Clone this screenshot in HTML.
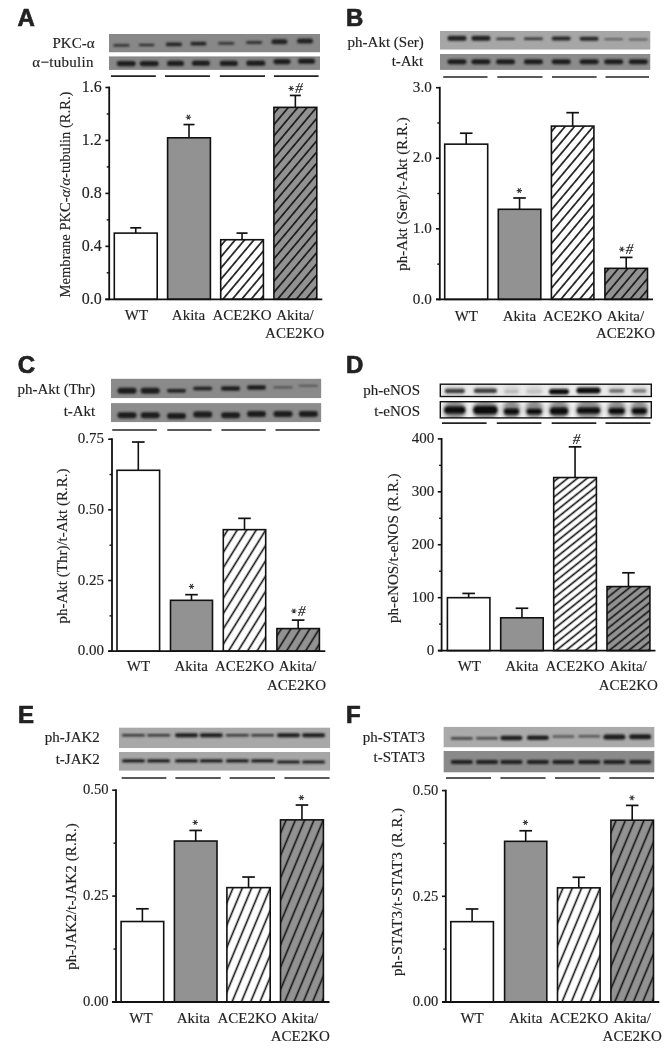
<!DOCTYPE html><html><head><meta charset="utf-8"><style>html,body{margin:0;padding:0;background:#fff;width:671px;height:1048px;overflow:hidden}svg{display:block;filter:blur(0.3px)}text{fill:#222;stroke:#222;stroke-width:0.15px}</style></head><body><svg width="671" height="1048" viewBox="0 0 671 1048"><defs><filter id="blur1" x="-20%" y="-50%" width="140%" height="200%"><feGaussianBlur stdDeviation="0.85"/></filter><filter id="blur2" x="-20%" y="-50%" width="140%" height="200%"><feGaussianBlur stdDeviation="1.1"/></filter><filter id="blur3" x="-30%" y="-80%" width="160%" height="260%"><feGaussianBlur stdDeviation="2"/></filter><clipPath id="cA0"><rect x="109" y="34" width="211" height="18.5"/></clipPath><clipPath id="cA1"><rect x="109" y="56.2" width="211" height="13.700000000000003"/></clipPath><pattern id="h1" patternUnits="userSpaceOnUse" width="7.196" height="10" patternTransform="translate(244.40,240.10) rotate(40.042) translate(-3.598,0)"><rect width="7.196" height="10" fill="#fff"/><line x1="3.598" y1="-1" x2="3.598" y2="11" stroke="#111" stroke-width="1.6"/></pattern><pattern id="h2" patternUnits="userSpaceOnUse" width="7.196" height="10" patternTransform="translate(288.30,107.50) rotate(40.042) translate(-3.598,0)"><rect width="7.196" height="10" fill="#929292"/><line x1="3.598" y1="-1" x2="3.598" y2="11" stroke="#111" stroke-width="1.6"/></pattern><clipPath id="cB0"><rect x="440" y="31" width="210.5" height="18.700000000000003"/></clipPath><clipPath id="cB1"><rect x="440" y="53.9" width="210.5" height="16.000000000000007"/></clipPath><pattern id="h3" patternUnits="userSpaceOnUse" width="7.196" height="10" patternTransform="translate(574.80,126.10) rotate(40.042) translate(-3.598,0)"><rect width="7.196" height="10" fill="#fff"/><line x1="3.598" y1="-1" x2="3.598" y2="11" stroke="#111" stroke-width="1.6"/></pattern><pattern id="h4" patternUnits="userSpaceOnUse" width="7.196" height="10" patternTransform="translate(618.60,268.20) rotate(40.042) translate(-3.598,0)"><rect width="7.196" height="10" fill="#929292"/><line x1="3.598" y1="-1" x2="3.598" y2="11" stroke="#111" stroke-width="1.6"/></pattern><clipPath id="cC0"><rect x="110.9" y="378.6" width="210.49999999999997" height="19.599999999999966"/></clipPath><clipPath id="cC1"><rect x="110.9" y="403.1" width="210.49999999999997" height="19.099999999999966"/></clipPath><pattern id="h5" patternUnits="userSpaceOnUse" width="8.070" height="10" patternTransform="translate(237.50,529.50) rotate(31.845) translate(-4.035,0)"><rect width="8.070" height="10" fill="#fff"/><line x1="4.035" y1="-1" x2="4.035" y2="11" stroke="#111" stroke-width="1.6"/></pattern><pattern id="h6" patternUnits="userSpaceOnUse" width="8.070" height="10" patternTransform="translate(291.00,628.60) rotate(31.845) translate(-4.035,0)"><rect width="8.070" height="10" fill="#929292"/><line x1="4.035" y1="-1" x2="4.035" y2="11" stroke="#111" stroke-width="1.6"/></pattern><clipPath id="cD0"><rect x="440.3" y="384.2" width="210.99999999999994" height="12.300000000000011"/></clipPath><clipPath id="cD1"><rect x="440.3" y="401.7" width="210.99999999999994" height="16.19999999999999"/></clipPath><pattern id="h7" patternUnits="userSpaceOnUse" width="6.060" height="10" patternTransform="translate(568.30,477.80) rotate(51.340) translate(-3.030,0)"><rect width="6.060" height="10" fill="#fff"/><line x1="3.030" y1="-1" x2="3.030" y2="11" stroke="#111" stroke-width="1.6"/></pattern><pattern id="h8" patternUnits="userSpaceOnUse" width="6.060" height="10" patternTransform="translate(621.20,586.60) rotate(51.340) translate(-3.030,0)"><rect width="6.060" height="10" fill="#929292"/><line x1="3.030" y1="-1" x2="3.030" y2="11" stroke="#111" stroke-width="1.6"/></pattern><clipPath id="cE0"><rect x="119" y="727.4" width="211.3" height="20.800000000000068"/></clipPath><clipPath id="cE1"><rect x="119" y="751.9" width="211.3" height="18.899999999999977"/></clipPath><pattern id="h9" patternUnits="userSpaceOnUse" width="8.585" height="10" patternTransform="translate(242.50,887.50) rotate(22.620) translate(-4.292,0)"><rect width="8.585" height="10" fill="#fff"/><line x1="4.292" y1="-1" x2="4.292" y2="11" stroke="#111" stroke-width="1.6"/></pattern><pattern id="h10" patternUnits="userSpaceOnUse" width="8.585" height="10" patternTransform="translate(295.30,820.20) rotate(22.620) translate(-4.292,0)"><rect width="8.585" height="10" fill="#929292"/><line x1="4.292" y1="-1" x2="4.292" y2="11" stroke="#111" stroke-width="1.6"/></pattern><clipPath id="cF0"><rect x="443.4" y="726.7" width="211.20000000000005" height="20.799999999999955"/></clipPath><clipPath id="cF1"><rect x="443.4" y="750.9" width="211.20000000000005" height="21.700000000000045"/></clipPath><pattern id="h11" patternUnits="userSpaceOnUse" width="8.585" height="10" patternTransform="translate(572.50,887.50) rotate(22.620) translate(-4.292,0)"><rect width="8.585" height="10" fill="#fff"/><line x1="4.292" y1="-1" x2="4.292" y2="11" stroke="#111" stroke-width="1.6"/></pattern><pattern id="h12" patternUnits="userSpaceOnUse" width="8.585" height="10" patternTransform="translate(625.60,819.80) rotate(22.620) translate(-4.292,0)"><rect width="8.585" height="10" fill="#929292"/><line x1="4.292" y1="-1" x2="4.292" y2="11" stroke="#111" stroke-width="1.6"/></pattern></defs><rect width="671" height="1048" fill="#fff"/><text x="17.50" y="25.90" font-size="24" text-anchor="start" font-family='"Liberation Sans", sans-serif' font-weight="bold" style="stroke-width:0.7px">A</text><g clip-path="url(#cA0)"><rect x="109" y="34" width="211" height="18.5" fill="#888888"/><g filter="url(#blur1)"><rect x="113.40" y="44.30" width="16.00" height="2.20" rx="1.10" fill="#222"/><rect x="138.60" y="43.90" width="16.00" height="2.20" rx="1.10" fill="#222"/><rect x="165.90" y="42.50" width="16.00" height="3.80" rx="1.90" fill="#222"/><rect x="190.40" y="41.80" width="16.00" height="3.80" rx="1.90" fill="#222"/><rect x="218.30" y="42.30" width="16.00" height="2.20" rx="1.10" fill="#222"/><rect x="246.20" y="41.20" width="16.00" height="2.60" rx="1.30" fill="#222"/><rect x="271.40" y="39.30" width="16.00" height="5.00" rx="2.50" fill="#222"/><rect x="297.00" y="38.60" width="16.00" height="5.00" rx="2.50" fill="#222"/></g></g><text x="94.50" y="47.70" font-size="15" text-anchor="end" font-family='"Liberation Serif", serif' font-weight="normal" >PKC-α</text><g clip-path="url(#cA1)"><rect x="109" y="56.2" width="211" height="13.700000000000003" fill="#888888"/><g filter="url(#blur1)"><rect x="116.80" y="61.00" width="19.00" height="5.20" rx="2.60" fill="#1e1e1e"/><rect x="139.70" y="61.00" width="19.00" height="5.20" rx="2.60" fill="#1e1e1e"/><rect x="167.00" y="60.80" width="17.00" height="5.20" rx="2.60" fill="#1e1e1e"/><rect x="191.90" y="60.60" width="18.00" height="5.20" rx="2.60" fill="#1e1e1e"/><rect x="219.80" y="60.80" width="18.00" height="5.20" rx="2.60" fill="#1e1e1e"/><rect x="246.30" y="60.60" width="19.00" height="5.20" rx="2.60" fill="#1e1e1e"/><rect x="273.50" y="59.00" width="17.00" height="5.20" rx="2.60" fill="#1e1e1e"/><rect x="298.10" y="58.60" width="17.00" height="5.20" rx="2.60" fill="#1e1e1e"/></g></g><text x="93.80" y="67.30" font-size="15" text-anchor="end" font-family='"Liberation Serif", serif' font-weight="normal" ><tspan letter-spacing="0.3">α−tubulin</tspan></text><line x1="110.9" y1="76.2" x2="155.8" y2="76.2" stroke="#222" stroke-width="1.7"/><line x1="165" y1="76.2" x2="209.9" y2="76.2" stroke="#222" stroke-width="1.7"/><line x1="219.8" y1="76.2" x2="265" y2="76.2" stroke="#222" stroke-width="1.7"/><line x1="273.9" y1="76.2" x2="318.6" y2="76.2" stroke="#222" stroke-width="1.7"/><line x1="109.2" y1="86.6" x2="109.2" y2="300.2" stroke="#111" stroke-width="1.8"/><line x1="135.75" y1="227.8175" x2="135.75" y2="233.1125" stroke="#111" stroke-width="1.6"/><line x1="130.25" y1="227.8175" x2="141.25" y2="227.8175" stroke="#111" stroke-width="1.7"/><rect x="114.3" y="233.1125" width="42.89999999999999" height="66.1875" fill="#fff" stroke="#111" stroke-width="1.6"/><line x1="189.0" y1="124.565" x2="189.0" y2="137.8025" stroke="#111" stroke-width="1.6"/><line x1="183.5" y1="124.565" x2="194.5" y2="124.565" stroke="#111" stroke-width="1.7"/><rect x="167.6" y="137.8025" width="42.80000000000001" height="161.4975" fill="#929292" stroke="#111" stroke-width="1.6"/><line x1="242.04999999999998" y1="233.1125" x2="242.04999999999998" y2="239.73125000000002" stroke="#111" stroke-width="1.6"/><line x1="236.54999999999998" y1="233.1125" x2="247.54999999999998" y2="233.1125" stroke="#111" stroke-width="1.7"/><rect x="220.7" y="239.73125000000002" width="42.69999999999999" height="59.568749999999994" fill="url(#h1)" stroke="#111" stroke-width="1.6"/><line x1="295.35" y1="95.4425" x2="295.35" y2="107.35625000000002" stroke="#111" stroke-width="1.6"/><line x1="289.85" y1="95.4425" x2="300.85" y2="95.4425" stroke="#111" stroke-width="1.7"/><rect x="273.9" y="107.35625000000002" width="42.900000000000034" height="191.94375" fill="url(#h2)" stroke="#111" stroke-width="1.6"/><line x1="105.2" y1="299.3" x2="322.3" y2="299.3" stroke="#111" stroke-width="1.8"/><line x1="105.4" y1="299.3" x2="109.2" y2="299.3" stroke="#111" stroke-width="1.6"/><text x="101.80" y="303.50" font-size="16" text-anchor="end" font-family='"Liberation Serif", serif' font-weight="normal" >0.0</text><line x1="105.4" y1="246.35000000000002" x2="109.2" y2="246.35000000000002" stroke="#111" stroke-width="1.6"/><text x="101.80" y="250.55" font-size="16" text-anchor="end" font-family='"Liberation Serif", serif' font-weight="normal" >0.4</text><line x1="105.4" y1="193.4" x2="109.2" y2="193.4" stroke="#111" stroke-width="1.6"/><text x="101.80" y="197.60" font-size="16" text-anchor="end" font-family='"Liberation Serif", serif' font-weight="normal" >0.8</text><line x1="105.4" y1="140.45000000000002" x2="109.2" y2="140.45000000000002" stroke="#111" stroke-width="1.6"/><text x="101.80" y="144.65" font-size="16" text-anchor="end" font-family='"Liberation Serif", serif' font-weight="normal" >1.2</text><line x1="105.4" y1="87.5" x2="109.2" y2="87.5" stroke="#111" stroke-width="1.6"/><text x="101.80" y="91.70" font-size="16" text-anchor="end" font-family='"Liberation Serif", serif' font-weight="normal" >1.6</text><line x1="106.7" y1="272.825" x2="109.2" y2="272.825" stroke="#111" stroke-width="1.4"/><line x1="106.7" y1="219.875" x2="109.2" y2="219.875" stroke="#111" stroke-width="1.4"/><line x1="106.7" y1="166.925" x2="109.2" y2="166.925" stroke="#111" stroke-width="1.4"/><line x1="106.7" y1="113.97500000000002" x2="109.2" y2="113.97500000000002" stroke="#111" stroke-width="1.4"/><path d="M185.70,117.20L191.10,117.20M187.05,114.86L189.75,119.54M189.75,114.86L187.05,119.54" stroke="#3a3a3a" stroke-width="1.05" fill="none"/><path d="M288.50,88.40L293.90,88.40M289.85,86.06L292.55,90.74M292.55,86.06L289.85,90.74" stroke="#3a3a3a" stroke-width="1.05" fill="none"/><text x="299.10" y="93.00" font-size="15" text-anchor="middle" font-family='"Liberation Serif", serif' font-weight="normal" font-style="italic">#</text><text transform="translate(70.4,194.5) rotate(-90)" font-size="14.6" letter-spacing="0" text-anchor="middle" font-family='"Liberation Serif", serif'>Membrane PKC-<tspan font-style="italic">α</tspan>/<tspan font-style="italic">α</tspan>-tubulin (R.R.)</text><text x="136.50" y="320.00" font-size="15" text-anchor="middle" font-family='"Liberation Serif", serif' font-weight="normal" >WT</text><text x="188.50" y="320.00" font-size="15" text-anchor="middle" font-family='"Liberation Serif", serif' font-weight="normal" >Akita</text><text x="242.00" y="320.00" font-size="15" text-anchor="middle" font-family='"Liberation Serif", serif' font-weight="normal" >ACE2KO</text><text x="295.00" y="320.00" font-size="15" text-anchor="middle" font-family='"Liberation Serif", serif' font-weight="normal" >Akita/</text><text x="294.70" y="338.20" font-size="15" text-anchor="middle" font-family='"Liberation Serif", serif' font-weight="normal" >ACE2KO</text><text x="346.00" y="25.90" font-size="24" text-anchor="start" font-family='"Liberation Sans", sans-serif' font-weight="bold" style="stroke-width:0.7px">B</text><g clip-path="url(#cB0)"><rect x="440" y="31" width="210.5" height="18.700000000000003" fill="#a6a6a6"/><g filter="url(#blur1)"><rect x="447.50" y="35.80" width="19.00" height="5.00" rx="2.50" fill="#222"/><rect x="471.40" y="35.80" width="19.00" height="5.00" rx="2.50" fill="#222"/><rect x="496.00" y="37.70" width="19.00" height="2.20" rx="1.10" fill="#333"/><rect x="523.90" y="37.60" width="19.00" height="2.40" rx="1.20" fill="#333"/><rect x="551.70" y="36.60" width="19.00" height="4.00" rx="2.00" fill="#262626"/><rect x="579.60" y="36.80" width="19.00" height="4.00" rx="2.00" fill="#262626"/><rect x="604.20" y="38.40" width="19.00" height="1.60" rx="0.80" fill="#444"/><rect x="628.80" y="38.70" width="19.00" height="1.60" rx="0.80" fill="#444"/></g></g><text x="423.80" y="46.70" font-size="15" text-anchor="end" font-family='"Liberation Serif", serif' font-weight="normal" >ph-Akt (Ser)</text><g clip-path="url(#cB1)"><rect x="440" y="53.9" width="210.5" height="16.000000000000007" fill="#8c8c8c"/><g filter="url(#blur1)"><rect x="447.50" y="59.20" width="19.00" height="5.00" rx="2.50" fill="#1c1c1c"/><rect x="471.40" y="59.20" width="19.00" height="5.00" rx="2.50" fill="#1c1c1c"/><rect x="496.00" y="59.20" width="19.00" height="5.00" rx="2.50" fill="#1c1c1c"/><rect x="523.90" y="59.20" width="19.00" height="5.00" rx="2.50" fill="#1c1c1c"/><rect x="551.70" y="59.20" width="19.00" height="5.00" rx="2.50" fill="#1c1c1c"/><rect x="579.60" y="59.20" width="19.00" height="5.00" rx="2.50" fill="#1c1c1c"/><rect x="604.20" y="59.20" width="19.00" height="5.00" rx="2.50" fill="#1c1c1c"/><rect x="628.80" y="59.20" width="19.00" height="5.00" rx="2.50" fill="#1c1c1c"/></g></g><text x="423.30" y="66.40" font-size="15" text-anchor="end" font-family='"Liberation Serif", serif' font-weight="normal" >t-Akt</text><line x1="443.2" y1="77" x2="487.5" y2="77" stroke="#222" stroke-width="1.7"/><line x1="497.3" y1="77" x2="542.5" y2="77" stroke="#222" stroke-width="1.7"/><line x1="552" y1="77" x2="596.6" y2="77" stroke="#222" stroke-width="1.7"/><line x1="605.5" y1="77" x2="649" y2="77" stroke="#222" stroke-width="1.7"/><line x1="439.8" y1="86.8" x2="439.8" y2="300.29999999999995" stroke="#111" stroke-width="1.8"/><line x1="466.2" y1="133.2155" x2="466.2" y2="144.1533333333333" stroke="#111" stroke-width="1.6"/><line x1="459.9" y1="133.2155" x2="472.5" y2="133.2155" stroke="#111" stroke-width="1.7"/><rect x="444.7" y="144.1533333333333" width="43.0" height="155.24666666666667" fill="#fff" stroke="#111" stroke-width="1.6"/><line x1="519.55" y1="197.9957" x2="519.55" y2="209.28636666666665" stroke="#111" stroke-width="1.6"/><line x1="513.25" y1="197.9957" x2="525.8499999999999" y2="197.9957" stroke="#111" stroke-width="1.7"/><rect x="498.3" y="209.28636666666665" width="42.49999999999994" height="90.11363333333333" fill="#929292" stroke="#111" stroke-width="1.6"/><line x1="572.65" y1="112.6806" x2="572.65" y2="126.08826666666664" stroke="#111" stroke-width="1.6"/><line x1="566.35" y1="112.6806" x2="578.9499999999999" y2="112.6806" stroke="#111" stroke-width="1.7"/><rect x="551.4" y="126.08826666666664" width="42.5" height="173.31173333333334" fill="url(#h3)" stroke="#111" stroke-width="1.6"/><line x1="626.2" y1="257.4128333333333" x2="626.2" y2="268.35066666666665" stroke="#111" stroke-width="1.6"/><line x1="619.9000000000001" y1="257.4128333333333" x2="632.5" y2="257.4128333333333" stroke="#111" stroke-width="1.7"/><rect x="604.9" y="268.35066666666665" width="42.60000000000002" height="31.049333333333323" fill="url(#h4)" stroke="#111" stroke-width="1.6"/><line x1="436" y1="299.4" x2="653" y2="299.4" stroke="#111" stroke-width="1.8"/><line x1="436.0" y1="299.4" x2="439.8" y2="299.4" stroke="#111" stroke-width="1.6"/><text x="431.80" y="303.60" font-size="15.2" text-anchor="end" font-family='"Liberation Serif", serif' font-weight="normal" >0.0</text><line x1="436.0" y1="228.83333333333331" x2="439.8" y2="228.83333333333331" stroke="#111" stroke-width="1.6"/><text x="431.80" y="233.03" font-size="15.2" text-anchor="end" font-family='"Liberation Serif", serif' font-weight="normal" >1.0</text><line x1="436.0" y1="158.26666666666665" x2="439.8" y2="158.26666666666665" stroke="#111" stroke-width="1.6"/><text x="431.80" y="162.47" font-size="15.2" text-anchor="end" font-family='"Liberation Serif", serif' font-weight="normal" >2.0</text><line x1="436.0" y1="87.70000000000002" x2="439.8" y2="87.70000000000002" stroke="#111" stroke-width="1.6"/><text x="431.80" y="91.90" font-size="15.2" text-anchor="end" font-family='"Liberation Serif", serif' font-weight="normal" >3.0</text><line x1="437.3" y1="264.1166666666667" x2="439.8" y2="264.1166666666667" stroke="#111" stroke-width="1.4"/><line x1="437.3" y1="193.55" x2="439.8" y2="193.55" stroke="#111" stroke-width="1.4"/><line x1="437.3" y1="122.98333333333332" x2="439.8" y2="122.98333333333332" stroke="#111" stroke-width="1.4"/><path d="M516.60,190.60L522.00,190.60M517.95,188.26L520.65,192.94M520.65,188.26L517.95,192.94" stroke="#3a3a3a" stroke-width="1.05" fill="none"/><path d="M619.10,249.20L624.50,249.20M620.45,246.86L623.15,251.54M623.15,246.86L620.45,251.54" stroke="#3a3a3a" stroke-width="1.05" fill="none"/><text x="629.50" y="253.60" font-size="15" text-anchor="middle" font-family='"Liberation Serif", serif' font-weight="normal" font-style="italic">#</text><text transform="translate(407.3,194) rotate(-90)" font-size="15" letter-spacing="0" text-anchor="middle" font-family='"Liberation Serif", serif'>ph-Akt (Ser)/t-Akt (R.R.)</text><text x="466.30" y="320.50" font-size="15" text-anchor="middle" font-family='"Liberation Serif", serif' font-weight="normal" >WT</text><text x="519.40" y="320.50" font-size="15" text-anchor="middle" font-family='"Liberation Serif", serif' font-weight="normal" >Akita</text><text x="572.60" y="320.50" font-size="15" text-anchor="middle" font-family='"Liberation Serif", serif' font-weight="normal" >ACE2KO</text><text x="625.40" y="320.50" font-size="15" text-anchor="middle" font-family='"Liberation Serif", serif' font-weight="normal" >Akita/</text><text x="625.60" y="337.50" font-size="15" text-anchor="middle" font-family='"Liberation Serif", serif' font-weight="normal" >ACE2KO</text><text x="17.80" y="372.80" font-size="24" text-anchor="start" font-family='"Liberation Sans", sans-serif' font-weight="bold" style="stroke-width:0.7px">C</text><g clip-path="url(#cC0)"><rect x="110.9" y="378.6" width="210.49999999999997" height="19.599999999999966" fill="#8a8a8a"/><g filter="url(#blur1)"><rect x="117.50" y="387.70" width="19.00" height="6.00" rx="3.00" fill="#1a1a1a"/><rect x="140.70" y="387.70" width="19.00" height="6.00" rx="3.00" fill="#1a1a1a"/><rect x="167.00" y="388.95" width="19.00" height="3.50" rx="1.75" fill="#1a1a1a"/><rect x="193.20" y="386.85" width="19.00" height="3.50" rx="1.75" fill="#1a1a1a"/><rect x="221.10" y="386.15" width="19.00" height="4.50" rx="2.25" fill="#1a1a1a"/><rect x="247.00" y="385.15" width="19.00" height="4.50" rx="2.25" fill="#1a1a1a"/><rect x="273.50" y="386.60" width="19.00" height="1.60" rx="0.80" fill="#444"/><rect x="298.80" y="385.00" width="19.00" height="1.60" rx="0.80" fill="#444"/></g></g><text x="95.30" y="393.90" font-size="15" text-anchor="end" font-family='"Liberation Serif", serif' font-weight="normal" >ph-Akt (Thr)</text><g clip-path="url(#cC1)"><rect x="110.9" y="403.1" width="210.49999999999997" height="19.099999999999966" fill="#8c8c8c"/><g filter="url(#blur1)"><rect x="117.50" y="412.30" width="19.00" height="6.00" rx="3.00" fill="#1a1a1a"/><rect x="140.70" y="412.30" width="19.00" height="6.00" rx="3.00" fill="#1a1a1a"/><rect x="167.00" y="413.00" width="19.00" height="6.00" rx="3.00" fill="#1a1a1a"/><rect x="193.20" y="411.50" width="19.00" height="6.00" rx="3.00" fill="#1a1a1a"/><rect x="221.10" y="412.30" width="19.00" height="6.00" rx="3.00" fill="#1a1a1a"/><rect x="247.00" y="411.00" width="19.00" height="6.00" rx="3.00" fill="#1a1a1a"/><rect x="273.50" y="411.00" width="19.00" height="6.00" rx="3.00" fill="#1a1a1a"/><rect x="298.80" y="411.00" width="19.00" height="6.00" rx="3.00" fill="#1a1a1a"/></g></g><text x="95.30" y="416.40" font-size="15" text-anchor="end" font-family='"Liberation Serif", serif' font-weight="normal" >t-Akt</text><line x1="112.2" y1="430" x2="156.8" y2="430" stroke="#222" stroke-width="1.7"/><line x1="167.3" y1="430" x2="211.6" y2="430" stroke="#222" stroke-width="1.7"/><line x1="221.4" y1="430" x2="265.7" y2="430" stroke="#222" stroke-width="1.7"/><line x1="275.5" y1="430" x2="319.8" y2="430" stroke="#222" stroke-width="1.7"/><line x1="112" y1="438.3" x2="112" y2="652.1" stroke="#111" stroke-width="1.8"/><line x1="138.3" y1="442.02666666666664" x2="138.3" y2="470.2933333333333" stroke="#111" stroke-width="1.6"/><line x1="132.0" y1="442.02666666666664" x2="144.60000000000002" y2="442.02666666666664" stroke="#111" stroke-width="1.7"/><rect x="117" y="470.2933333333333" width="42.599999999999994" height="180.90666666666675" fill="#fff" stroke="#111" stroke-width="1.6"/><line x1="191.5" y1="594.6666666666667" x2="191.5" y2="600.32" stroke="#111" stroke-width="1.6"/><line x1="185.2" y1="594.6666666666667" x2="197.8" y2="594.6666666666667" stroke="#111" stroke-width="1.7"/><rect x="170.5" y="600.32" width="42.0" height="50.879999999999995" fill="#929292" stroke="#111" stroke-width="1.6"/><line x1="244.5" y1="518.3466666666667" x2="244.5" y2="529.6533333333333" stroke="#111" stroke-width="1.6"/><line x1="238.2" y1="518.3466666666667" x2="250.8" y2="518.3466666666667" stroke="#111" stroke-width="1.7"/><rect x="223.3" y="529.6533333333333" width="42.39999999999998" height="121.54666666666674" fill="url(#h5)" stroke="#111" stroke-width="1.6"/><line x1="298.15" y1="620.1066666666667" x2="298.15" y2="628.5866666666667" stroke="#111" stroke-width="1.6"/><line x1="291.84999999999997" y1="620.1066666666667" x2="304.45" y2="620.1066666666667" stroke="#111" stroke-width="1.7"/><rect x="276.9" y="628.5866666666667" width="42.5" height="22.613333333333344" fill="url(#h6)" stroke="#111" stroke-width="1.6"/><line x1="108.3" y1="651.2" x2="325.3" y2="651.2" stroke="#111" stroke-width="1.8"/><line x1="108.2" y1="651.2" x2="112" y2="651.2" stroke="#111" stroke-width="1.6"/><text x="104.00" y="655.40" font-size="15" text-anchor="end" font-family='"Liberation Serif", serif' font-weight="normal" >0.00</text><line x1="108.2" y1="580.5333333333333" x2="112" y2="580.5333333333333" stroke="#111" stroke-width="1.6"/><text x="104.00" y="584.73" font-size="15" text-anchor="end" font-family='"Liberation Serif", serif' font-weight="normal" >0.25</text><line x1="108.2" y1="509.8666666666667" x2="112" y2="509.8666666666667" stroke="#111" stroke-width="1.6"/><text x="104.00" y="514.07" font-size="15" text-anchor="end" font-family='"Liberation Serif", serif' font-weight="normal" >0.50</text><line x1="108.2" y1="439.19999999999993" x2="112" y2="439.19999999999993" stroke="#111" stroke-width="1.6"/><text x="104.00" y="443.40" font-size="15" text-anchor="end" font-family='"Liberation Serif", serif' font-weight="normal" >0.75</text><line x1="109.5" y1="615.8666666666667" x2="112" y2="615.8666666666667" stroke="#111" stroke-width="1.4"/><line x1="109.5" y1="545.2" x2="112" y2="545.2" stroke="#111" stroke-width="1.4"/><line x1="109.5" y1="474.5333333333333" x2="112" y2="474.5333333333333" stroke="#111" stroke-width="1.4"/><path d="M188.80,586.40L194.20,586.40M190.15,584.06L192.85,588.74M192.85,584.06L190.15,588.74" stroke="#3a3a3a" stroke-width="1.05" fill="none"/><path d="M291.20,611.00L296.60,611.00M292.55,608.66L295.25,613.34M295.25,608.66L292.55,613.34" stroke="#3a3a3a" stroke-width="1.05" fill="none"/><text x="301.70" y="615.60" font-size="15" text-anchor="middle" font-family='"Liberation Serif", serif' font-weight="normal" font-style="italic">#</text><text transform="translate(67,546) rotate(-90)" font-size="15" letter-spacing="0" text-anchor="middle" font-family='"Liberation Serif", serif'>ph-Akt (Thr)/t-Akt (R.R.)</text><text x="138.50" y="671.40" font-size="15" text-anchor="middle" font-family='"Liberation Serif", serif' font-weight="normal" >WT</text><text x="191.20" y="671.40" font-size="15" text-anchor="middle" font-family='"Liberation Serif", serif' font-weight="normal" >Akita</text><text x="244.50" y="671.40" font-size="15" text-anchor="middle" font-family='"Liberation Serif", serif' font-weight="normal" >ACE2KO</text><text x="297.50" y="671.40" font-size="15" text-anchor="middle" font-family='"Liberation Serif", serif' font-weight="normal" >Akita/</text><text x="296.50" y="689.50" font-size="15" text-anchor="middle" font-family='"Liberation Serif", serif' font-weight="normal" >ACE2KO</text><text x="346.00" y="372.60" font-size="24" text-anchor="start" font-family='"Liberation Sans", sans-serif' font-weight="bold" style="stroke-width:0.7px">D</text><g clip-path="url(#cD0)"><rect x="440.3" y="384.2" width="210.99999999999994" height="12.300000000000011" fill="#ececec"/><g filter="url(#blur3)"><rect x="443.80" y="385.50" width="22.00" height="10.00" rx="5.00" fill="#d4d4d4"/><rect x="472.90" y="385.50" width="25.00" height="10.00" rx="5.00" fill="#d4d4d4"/><rect x="503.00" y="385.50" width="17.00" height="10.00" rx="5.00" fill="#d4d4d4"/><rect x="525.70" y="385.50" width="17.00" height="10.00" rx="5.00" fill="#d4d4d4"/><rect x="549.00" y="385.50" width="20.00" height="10.00" rx="5.00" fill="#d4d4d4"/><rect x="576.00" y="385.50" width="25.00" height="10.00" rx="5.00" fill="#d4d4d4"/><rect x="607.70" y="385.50" width="18.00" height="10.00" rx="5.00" fill="#d4d4d4"/><rect x="630.80" y="385.50" width="17.00" height="10.00" rx="5.00" fill="#d4d4d4"/></g><g filter="url(#blur1)"><rect x="444.80" y="388.75" width="20.00" height="4.50" rx="2.25" fill="#3c3c3c"/><rect x="473.90" y="388.55" width="23.00" height="4.50" rx="2.25" fill="#3c3c3c"/><rect x="504.50" y="390.00" width="14.00" height="3.00" rx="1.50" fill="#b8b8b8"/><rect x="526.70" y="390.00" width="15.00" height="3.00" rx="1.50" fill="#c0c0c0"/><rect x="549.00" y="389.05" width="20.00" height="5.50" rx="2.75" fill="#111"/><rect x="576.50" y="387.60" width="24.00" height="6.00" rx="3.00" fill="#111"/><rect x="609.20" y="389.20" width="15.00" height="3.20" rx="1.60" fill="#626262"/><rect x="632.30" y="389.20" width="14.00" height="3.20" rx="1.60" fill="#727272"/></g></g><rect x="440.3" y="384.2" width="210.99999999999994" height="12.300000000000011" fill="none" stroke="#111" stroke-width="1.4"/><text x="420.00" y="395.40" font-size="15" text-anchor="end" font-family='"Liberation Serif", serif' font-weight="normal" >ph-eNOS</text><g clip-path="url(#cD1)"><rect x="440.3" y="401.7" width="210.99999999999994" height="16.19999999999999" fill="#f4f4f4"/><g filter="url(#blur3)"><rect x="443.30" y="400.00" width="23.00" height="20.00" rx="10.00" fill="#8c8c8c"/><rect x="472.40" y="400.00" width="26.00" height="20.00" rx="10.00" fill="#8c8c8c"/><rect x="502.50" y="400.00" width="18.00" height="20.00" rx="9.00" fill="#8c8c8c"/><rect x="525.20" y="400.00" width="18.00" height="20.00" rx="9.00" fill="#8c8c8c"/><rect x="548.50" y="400.00" width="21.00" height="20.00" rx="10.00" fill="#8c8c8c"/><rect x="575.50" y="400.00" width="26.00" height="20.00" rx="10.00" fill="#8c8c8c"/><rect x="607.20" y="400.00" width="19.00" height="20.00" rx="9.50" fill="#8c8c8c"/><rect x="630.30" y="400.00" width="18.00" height="20.00" rx="9.00" fill="#8c8c8c"/></g><g filter="url(#blur1)"><rect x="444.30" y="406.50" width="21.00" height="7.00" rx="3.50" fill="#0d0d0d"/><rect x="473.40" y="406.00" width="24.00" height="8.00" rx="4.00" fill="#0d0d0d"/><rect x="504.00" y="408.50" width="15.00" height="6.00" rx="3.00" fill="#0d0d0d"/><rect x="526.70" y="408.75" width="15.00" height="5.50" rx="2.75" fill="#0d0d0d"/><rect x="550.00" y="407.50" width="18.00" height="7.00" rx="3.50" fill="#0d0d0d"/><rect x="577.00" y="407.50" width="23.00" height="6.00" rx="3.00" fill="#0d0d0d"/><rect x="608.70" y="408.00" width="16.00" height="6.00" rx="3.00" fill="#0d0d0d"/><rect x="631.80" y="408.00" width="15.00" height="6.00" rx="3.00" fill="#0d0d0d"/></g></g><rect x="440.3" y="401.7" width="210.99999999999994" height="16.19999999999999" fill="none" stroke="#111" stroke-width="1.4"/><text x="420.00" y="416.30" font-size="15" text-anchor="end" font-family='"Liberation Serif", serif' font-weight="normal" >t-eNOS</text><line x1="442" y1="423.1" x2="486.6" y2="423.1" stroke="#222" stroke-width="1.7"/><line x1="496.8" y1="423.1" x2="541.4" y2="423.1" stroke="#222" stroke-width="1.7"/><line x1="551.7" y1="423.1" x2="596.3" y2="423.1" stroke="#222" stroke-width="1.7"/><line x1="605.5" y1="423.1" x2="650.4" y2="423.1" stroke="#222" stroke-width="1.7"/><line x1="441.6" y1="438.0" x2="441.6" y2="651.5" stroke="#111" stroke-width="1.8"/><line x1="468.65" y1="593.441" x2="468.65" y2="597.675" stroke="#111" stroke-width="1.6"/><line x1="462.34999999999997" y1="593.441" x2="474.95" y2="593.441" stroke="#111" stroke-width="1.7"/><rect x="447.4" y="597.675" width="42.5" height="52.92500000000007" fill="#fff" stroke="#111" stroke-width="1.6"/><line x1="521.95" y1="608.26" x2="521.95" y2="617.7865" stroke="#111" stroke-width="1.6"/><line x1="515.6500000000001" y1="608.26" x2="528.25" y2="608.26" stroke="#111" stroke-width="1.7"/><rect x="500.7" y="617.7865" width="42.50000000000006" height="32.813499999999976" fill="#929292" stroke="#111" stroke-width="1.6"/><line x1="575.05" y1="446.83875" x2="575.05" y2="477.53525" stroke="#111" stroke-width="1.6"/><line x1="568.75" y1="446.83875" x2="581.3499999999999" y2="446.83875" stroke="#111" stroke-width="1.7"/><rect x="553.7" y="477.53525" width="42.69999999999993" height="173.06475" fill="url(#h7)" stroke="#111" stroke-width="1.6"/><line x1="628.45" y1="572.80025" x2="628.45" y2="586.56075" stroke="#111" stroke-width="1.6"/><line x1="622.1500000000001" y1="572.80025" x2="634.75" y2="572.80025" stroke="#111" stroke-width="1.7"/><rect x="607" y="586.56075" width="42.89999999999998" height="64.03925000000004" fill="url(#h8)" stroke="#111" stroke-width="1.6"/><line x1="438" y1="650.6" x2="655.5" y2="650.6" stroke="#111" stroke-width="1.8"/><line x1="437.8" y1="650.6" x2="441.6" y2="650.6" stroke="#111" stroke-width="1.6"/><text x="434.30" y="654.80" font-size="15" text-anchor="end" font-family='"Liberation Serif", serif' font-weight="normal" >0</text><line x1="437.8" y1="597.675" x2="441.6" y2="597.675" stroke="#111" stroke-width="1.6"/><text x="434.30" y="601.88" font-size="15" text-anchor="end" font-family='"Liberation Serif", serif' font-weight="normal" >100</text><line x1="437.8" y1="544.75" x2="441.6" y2="544.75" stroke="#111" stroke-width="1.6"/><text x="434.30" y="548.95" font-size="15" text-anchor="end" font-family='"Liberation Serif", serif' font-weight="normal" >200</text><line x1="437.8" y1="491.825" x2="441.6" y2="491.825" stroke="#111" stroke-width="1.6"/><text x="434.30" y="496.02" font-size="15" text-anchor="end" font-family='"Liberation Serif", serif' font-weight="normal" >300</text><line x1="437.8" y1="438.9" x2="441.6" y2="438.9" stroke="#111" stroke-width="1.6"/><text x="434.30" y="443.10" font-size="15" text-anchor="end" font-family='"Liberation Serif", serif' font-weight="normal" >400</text><line x1="439.1" y1="624.1375" x2="441.6" y2="624.1375" stroke="#111" stroke-width="1.4"/><line x1="439.1" y1="571.2125" x2="441.6" y2="571.2125" stroke="#111" stroke-width="1.4"/><line x1="439.1" y1="518.2875" x2="441.6" y2="518.2875" stroke="#111" stroke-width="1.4"/><line x1="439.1" y1="465.36249999999995" x2="441.6" y2="465.36249999999995" stroke="#111" stroke-width="1.4"/><text x="576.50" y="443.90" font-size="15" text-anchor="middle" font-family='"Liberation Serif", serif' font-weight="normal" font-style="italic">#</text><text transform="translate(398.3,548.2) rotate(-90)" font-size="15.2" letter-spacing="0" text-anchor="middle" font-family='"Liberation Serif", serif'>ph-eNOS/t-eNOS (R.R.)</text><text x="469.30" y="671.40" font-size="15" text-anchor="middle" font-family='"Liberation Serif", serif' font-weight="normal" >WT</text><text x="521.80" y="671.40" font-size="15" text-anchor="middle" font-family='"Liberation Serif", serif' font-weight="normal" >Akita</text><text x="575.00" y="671.40" font-size="15" text-anchor="middle" font-family='"Liberation Serif", serif' font-weight="normal" >ACE2KO</text><text x="628.00" y="671.40" font-size="15" text-anchor="middle" font-family='"Liberation Serif", serif' font-weight="normal" >Akita/</text><text x="628.30" y="689.50" font-size="15" text-anchor="middle" font-family='"Liberation Serif", serif' font-weight="normal" >ACE2KO</text><text x="17.90" y="723.20" font-size="24" text-anchor="start" font-family='"Liberation Sans", sans-serif' font-weight="bold" style="stroke-width:0.7px">E</text><g clip-path="url(#cE0)"><rect x="119" y="727.4" width="211.3" height="20.800000000000068" fill="#a8a8a8"/><g filter="url(#blur1)"><rect x="122.00" y="734.10" width="23.00" height="2.40" rx="1.20" fill="#333"/><rect x="147.10" y="734.10" width="23.00" height="2.40" rx="1.20" fill="#333"/><rect x="175.00" y="733.30" width="23.00" height="4.00" rx="2.00" fill="#1e1e1e"/><rect x="199.80" y="733.30" width="23.00" height="4.00" rx="2.00" fill="#1e1e1e"/><rect x="225.90" y="734.10" width="23.00" height="2.40" rx="1.20" fill="#333"/><rect x="251.10" y="734.10" width="23.00" height="2.40" rx="1.20" fill="#333"/><rect x="276.90" y="733.30" width="23.00" height="4.00" rx="2.00" fill="#1e1e1e"/><rect x="302.10" y="733.30" width="23.00" height="4.00" rx="2.00" fill="#1e1e1e"/></g></g><text x="99.80" y="742.40" font-size="15" text-anchor="end" font-family='"Liberation Serif", serif' font-weight="normal" >ph-JAK2</text><g clip-path="url(#cE1)"><rect x="119" y="751.9" width="211.3" height="18.899999999999977" fill="#a6a6a6"/><g filter="url(#blur1)"><rect x="122.00" y="759.30" width="23.00" height="3.20" rx="1.60" fill="#1e1e1e"/><rect x="147.10" y="759.30" width="23.00" height="3.20" rx="1.60" fill="#1e1e1e"/><rect x="175.00" y="759.30" width="23.00" height="3.20" rx="1.60" fill="#1e1e1e"/><rect x="199.80" y="759.30" width="23.00" height="3.20" rx="1.60" fill="#1e1e1e"/><rect x="225.90" y="759.30" width="23.00" height="3.20" rx="1.60" fill="#1e1e1e"/><rect x="251.10" y="759.30" width="23.00" height="3.20" rx="1.60" fill="#1e1e1e"/><rect x="276.90" y="760.40" width="23.00" height="3.20" rx="1.60" fill="#1e1e1e"/><rect x="302.10" y="760.40" width="23.00" height="3.20" rx="1.60" fill="#1e1e1e"/></g></g><text x="99.80" y="764.40" font-size="15" text-anchor="end" font-family='"Liberation Serif", serif' font-weight="normal" >t-JAK2</text><line x1="121.7" y1="778" x2="166.3" y2="778" stroke="#222" stroke-width="1.7"/><line x1="175.4" y1="778" x2="220.7" y2="778" stroke="#222" stroke-width="1.7"/><line x1="229.7" y1="778" x2="275" y2="778" stroke="#222" stroke-width="1.7"/><line x1="284.4" y1="778" x2="329.6" y2="778" stroke="#222" stroke-width="1.7"/><line x1="116" y1="789.3000000000001" x2="116" y2="1002.9" stroke="#111" stroke-width="1.8"/><line x1="142.39999999999998" y1="908.808" x2="142.39999999999998" y2="921.5160000000001" stroke="#111" stroke-width="1.6"/><line x1="136.09999999999997" y1="908.808" x2="148.7" y2="908.808" stroke="#111" stroke-width="1.7"/><rect x="121.1" y="921.5160000000001" width="42.599999999999994" height="80.48399999999992" fill="#fff" stroke="#111" stroke-width="1.6"/><line x1="195.7" y1="830.442" x2="195.7" y2="841.032" stroke="#111" stroke-width="1.6"/><line x1="189.39999999999998" y1="830.442" x2="202.0" y2="830.442" stroke="#111" stroke-width="1.7"/><rect x="174.4" y="841.032" width="42.599999999999994" height="160.96799999999996" fill="#929292" stroke="#111" stroke-width="1.6"/><line x1="248.55" y1="877.038" x2="248.55" y2="887.628" stroke="#111" stroke-width="1.6"/><line x1="242.25" y1="877.038" x2="254.85000000000002" y2="877.038" stroke="#111" stroke-width="1.7"/><rect x="226.9" y="887.628" width="43.29999999999998" height="114.37199999999996" fill="url(#h9)" stroke="#111" stroke-width="1.6"/><line x1="301.95" y1="805.0260000000001" x2="301.95" y2="819.8520000000001" stroke="#111" stroke-width="1.6"/><line x1="295.65" y1="805.0260000000001" x2="308.25" y2="805.0260000000001" stroke="#111" stroke-width="1.7"/><rect x="280.5" y="819.8520000000001" width="42.89999999999998" height="182.1479999999999" fill="url(#h10)" stroke="#111" stroke-width="1.6"/><line x1="112" y1="1002" x2="329.5" y2="1002" stroke="#111" stroke-width="1.8"/><line x1="112.2" y1="1002.0" x2="116" y2="1002.0" stroke="#111" stroke-width="1.6"/><text x="108.60" y="1006.20" font-size="14.6" text-anchor="end" font-family='"Liberation Serif", serif' font-weight="normal" >0.00</text><line x1="112.2" y1="896.1" x2="116" y2="896.1" stroke="#111" stroke-width="1.6"/><text x="108.60" y="900.30" font-size="14.6" text-anchor="end" font-family='"Liberation Serif", serif' font-weight="normal" >0.25</text><line x1="112.2" y1="790.2" x2="116" y2="790.2" stroke="#111" stroke-width="1.6"/><text x="108.60" y="794.40" font-size="14.6" text-anchor="end" font-family='"Liberation Serif", serif' font-weight="normal" >0.50</text><line x1="113.5" y1="949.05" x2="116" y2="949.05" stroke="#111" stroke-width="1.4"/><line x1="113.5" y1="843.1500000000001" x2="116" y2="843.1500000000001" stroke="#111" stroke-width="1.4"/><path d="M192.50,822.40L197.90,822.40M193.85,820.06L196.55,824.74M196.55,820.06L193.85,824.74" stroke="#3a3a3a" stroke-width="1.05" fill="none"/><path d="M298.70,797.60L304.10,797.60M300.05,795.26L302.75,799.94M302.75,795.26L300.05,799.94" stroke="#3a3a3a" stroke-width="1.05" fill="none"/><text transform="translate(75.5,896.5) rotate(-90)" font-size="15" letter-spacing="0.1" text-anchor="middle" font-family='"Liberation Serif", serif'>ph-JAK2/t-JAK2 (R.R.)</text><text x="141.00" y="1022.50" font-size="15" text-anchor="middle" font-family='"Liberation Serif", serif' font-weight="normal" >WT</text><text x="193.30" y="1022.50" font-size="15" text-anchor="middle" font-family='"Liberation Serif", serif' font-weight="normal" >Akita</text><text x="247.00" y="1022.50" font-size="15" text-anchor="middle" font-family='"Liberation Serif", serif' font-weight="normal" >ACE2KO</text><text x="299.50" y="1022.50" font-size="15" text-anchor="middle" font-family='"Liberation Serif", serif' font-weight="normal" >Akita/</text><text x="300.30" y="1040.50" font-size="15" text-anchor="middle" font-family='"Liberation Serif", serif' font-weight="normal" >ACE2KO</text><text x="346.00" y="723.20" font-size="24" text-anchor="start" font-family='"Liberation Sans", sans-serif' font-weight="bold" style="stroke-width:0.7px">F</text><g clip-path="url(#cF0)"><rect x="443.4" y="726.7" width="211.20000000000005" height="20.799999999999955" fill="#aaaaaa"/><g filter="url(#blur1)"><rect x="450.80" y="737.10" width="22.00" height="2.60" rx="1.30" fill="#444"/><rect x="476.00" y="736.90" width="22.00" height="2.60" rx="1.30" fill="#444"/><rect x="500.40" y="735.75" width="22.00" height="4.50" rx="2.25" fill="#1e1e1e"/><rect x="526.90" y="735.55" width="22.00" height="4.50" rx="2.25" fill="#1e1e1e"/><rect x="552.40" y="735.30" width="22.00" height="2.40" rx="1.20" fill="#555"/><rect x="578.20" y="735.10" width="22.00" height="2.40" rx="1.20" fill="#555"/><rect x="603.40" y="734.50" width="22.00" height="5.00" rx="2.50" fill="#1a1a1a"/><rect x="629.20" y="734.30" width="22.00" height="5.00" rx="2.50" fill="#1a1a1a"/></g></g><text x="424.90" y="742.30" font-size="15" text-anchor="end" font-family='"Liberation Serif", serif' font-weight="normal" >ph-STAT3</text><g clip-path="url(#cF1)"><rect x="443.4" y="750.9" width="211.20000000000005" height="21.700000000000045" fill="#8a8a8a"/><g filter="url(#blur1)"><rect x="450.80" y="759.90" width="22.00" height="4.00" rx="2.00" fill="#1a1a1a"/><rect x="476.00" y="759.90" width="22.00" height="4.00" rx="2.00" fill="#1a1a1a"/><rect x="500.40" y="759.90" width="22.00" height="4.00" rx="2.00" fill="#1a1a1a"/><rect x="526.90" y="759.90" width="22.00" height="4.00" rx="2.00" fill="#1a1a1a"/><rect x="552.40" y="759.90" width="22.00" height="4.00" rx="2.00" fill="#1a1a1a"/><rect x="578.20" y="759.90" width="22.00" height="4.00" rx="2.00" fill="#1a1a1a"/><rect x="603.40" y="759.90" width="22.00" height="4.00" rx="2.00" fill="#1a1a1a"/><rect x="629.20" y="759.90" width="22.00" height="4.00" rx="2.00" fill="#1a1a1a"/></g></g><text x="424.90" y="762.00" font-size="15" text-anchor="end" font-family='"Liberation Serif", serif' font-weight="normal" >t-STAT3</text><line x1="446" y1="778" x2="491" y2="778" stroke="#222" stroke-width="1.7"/><line x1="500.4" y1="778" x2="545.6" y2="778" stroke="#222" stroke-width="1.7"/><line x1="555" y1="778" x2="600.3" y2="778" stroke="#222" stroke-width="1.7"/><line x1="609.3" y1="778" x2="654" y2="778" stroke="#222" stroke-width="1.7"/><line x1="445.8" y1="789.7" x2="445.8" y2="1002.9" stroke="#111" stroke-width="1.8"/><line x1="472.1" y1="908.984" x2="472.1" y2="921.668" stroke="#111" stroke-width="1.6"/><line x1="465.8" y1="908.984" x2="478.40000000000003" y2="908.984" stroke="#111" stroke-width="1.7"/><rect x="450.8" y="921.668" width="42.599999999999966" height="80.332" fill="#fff" stroke="#111" stroke-width="1.6"/><line x1="525.7" y1="830.7660000000001" x2="525.7" y2="841.336" stroke="#111" stroke-width="1.6"/><line x1="519.4000000000001" y1="830.7660000000001" x2="532.0" y2="830.7660000000001" stroke="#111" stroke-width="1.7"/><rect x="504.6" y="841.336" width="42.19999999999993" height="160.664" fill="#929292" stroke="#111" stroke-width="1.6"/><line x1="578.8" y1="877.274" x2="578.8" y2="887.844" stroke="#111" stroke-width="1.6"/><line x1="572.5" y1="877.274" x2="585.0999999999999" y2="877.274" stroke="#111" stroke-width="1.7"/><rect x="557.5" y="887.844" width="42.60000000000002" height="114.15599999999995" fill="url(#h11)" stroke="#111" stroke-width="1.6"/><line x1="632.2" y1="805.398" x2="632.2" y2="820.196" stroke="#111" stroke-width="1.6"/><line x1="625.9000000000001" y1="805.398" x2="638.5" y2="805.398" stroke="#111" stroke-width="1.7"/><rect x="610.9" y="820.196" width="42.60000000000002" height="181.80399999999997" fill="url(#h12)" stroke="#111" stroke-width="1.6"/><line x1="442" y1="1002" x2="659.3" y2="1002" stroke="#111" stroke-width="1.8"/><line x1="442.0" y1="1002.0" x2="445.8" y2="1002.0" stroke="#111" stroke-width="1.6"/><text x="438.20" y="1006.20" font-size="14.5" text-anchor="end" font-family='"Liberation Serif", serif' font-weight="normal" >0.00</text><line x1="442.0" y1="896.3" x2="445.8" y2="896.3" stroke="#111" stroke-width="1.6"/><text x="438.20" y="900.50" font-size="14.5" text-anchor="end" font-family='"Liberation Serif", serif' font-weight="normal" >0.25</text><line x1="442.0" y1="790.6" x2="445.8" y2="790.6" stroke="#111" stroke-width="1.6"/><text x="438.20" y="794.80" font-size="14.5" text-anchor="end" font-family='"Liberation Serif", serif' font-weight="normal" >0.50</text><line x1="443.3" y1="949.15" x2="445.8" y2="949.15" stroke="#111" stroke-width="1.4"/><line x1="443.3" y1="843.45" x2="445.8" y2="843.45" stroke="#111" stroke-width="1.4"/><path d="M522.70,822.50L528.10,822.50M524.05,820.16L526.75,824.84M526.75,820.16L524.05,824.84" stroke="#3a3a3a" stroke-width="1.05" fill="none"/><path d="M629.20,797.80L634.60,797.80M630.55,795.46L633.25,800.14M633.25,795.46L630.55,800.14" stroke="#3a3a3a" stroke-width="1.05" fill="none"/><text transform="translate(402,891.8) rotate(-90)" font-size="15" letter-spacing="0.42" text-anchor="middle" font-family='"Liberation Serif", serif'>ph-STAT3/t-STAT3 (R.R.)</text><text x="472.10" y="1022.50" font-size="15" text-anchor="middle" font-family='"Liberation Serif", serif' font-weight="normal" >WT</text><text x="525.70" y="1022.50" font-size="15" text-anchor="middle" font-family='"Liberation Serif", serif' font-weight="normal" >Akita</text><text x="578.80" y="1022.50" font-size="15" text-anchor="middle" font-family='"Liberation Serif", serif' font-weight="normal" >ACE2KO</text><text x="632.20" y="1022.50" font-size="15" text-anchor="middle" font-family='"Liberation Serif", serif' font-weight="normal" >Akita/</text><text x="632.20" y="1040.50" font-size="15" text-anchor="middle" font-family='"Liberation Serif", serif' font-weight="normal" >ACE2KO</text></svg></body></html>
